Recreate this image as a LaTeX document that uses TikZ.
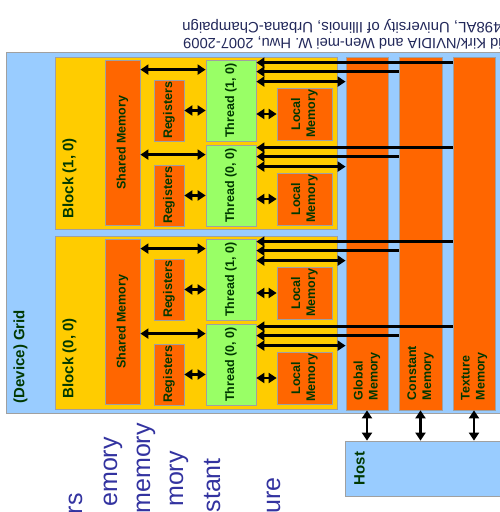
\documentclass[tikz,border=0pt]{standalone}
\usepackage{fontspec}
\setmainfont{Liberation Sans}
\usetikzlibrary{arrows.meta}
\definecolor{gridblue}{HTML}{99CCFF}
\definecolor{blockyel}{HTML}{FFCC00}
\definecolor{memorange}{HTML}{FF6600}
\definecolor{thrgreen}{HTML}{99FF66}
\definecolor{boxgray}{HTML}{A0A0A0}
\definecolor{txtgreen}{HTML}{003800}
\definecolor{footblue}{HTML}{22285A}
\definecolor{bulletblue}{HTML}{3333A0}
\tikzset{
  box/.style={draw=boxgray, line width=0.8pt, inner sep=0pt},
  membox/.style={box, fill=memorange, minimum width=42pt, minimum height=353pt},
  shmbox/.style={box, fill=memorange, minimum width=35pt, minimum height=165pt},
  regbox/.style={box, fill=memorange, minimum width=30pt, minimum height=61pt},
  locbox/.style={box, fill=memorange, minimum width=55pt, minimum height=52pt},
  thrbox/.style={box, fill=thrgreen, minimum width=50pt, minimum height=81pt},
  blkbox/.style={box, fill=blockyel, minimum width=282pt, minimum height=172pt},
  lbl/.style={rotate=90, inner sep=0pt, text=txtgreen, align=center,
    font=\bfseries\fontsize{12.5}{15}\selectfont},
  biglbl/.style={lbl, anchor=west, font=\bfseries\fontsize{15}{18}\selectfont},
  memlbl/.style={lbl, anchor=west, align=left},
  foot/.style={rotate=180, anchor=east, inner sep=0pt, text=footblue,
    font=\fontsize{15}{18}\selectfont},
  bullet/.style={rotate=90, anchor=base east, inner sep=0pt, text=bulletblue,
    font=\fontsize{25}{30}\selectfont},
  dbl/.style={{Triangle[length=8pt,width=10pt]}-{Triangle[length=8pt,width=10pt]}, line width=2.5pt},
  sgl/.style={-{Triangle[length=8pt,width=10pt]}, line width=2.5pt}
}
\begin{document}
\begin{tikzpicture}[x=1pt,y=-1pt]
\useasboundingbox (0,0) rectangle (500,512);
\clip (0,0) rectangle (500,512);
% footer, upside down
\node[foot, font=\fontsize{14.7}{18}\selectfont] (foot1) at (183,43) {\copyright{} David Kirk/NVIDIA and Wen-mei W. Hwu, 2007-2009};
\node[foot] (foot2) at (182,26) {ECE 498AL, University of Illinois, Urbana-Champaign};
% grid and host
\node[box, fill=gridblue, minimum width=499pt, minimum height=361pt] (grid) at (255.5,232.5) {};
\node[box, fill=gridblue, minimum width=160pt, minimum height=55pt] (host) at (425,468.5) {};
\node[biglbl] (gridtxt) at ([xshift=15pt,yshift=10pt]grid.south west) {(Device) Grid};
\node[biglbl] (hosttxt) at ([xshift=15pt,yshift=11pt]host.south west) {Host};
% blocks
\node[blkbox] (blk10) at (196,143) {};
\node[blkbox, minimum height=173pt] (blk00) at (196,322.5) {};
\node[biglbl] (blk10txt) at ([xshift=15pt,yshift=11pt]blk10.south west) {Block (1, 0)};
\node[biglbl] (blk00txt) at ([xshift=15pt,yshift=11pt]blk00.south west) {Block (0, 0)};
% per-grid memories
\node[membox] (glob) at (367,233.5) {};
\node[membox, minimum width=43pt] (cnst) at (420.5,233.5) {};
\node[membox] (tex) at (474,233.5) {};
\node[memlbl] (globtxt) at ([yshift=10pt]glob.south) {Global\\Memory};
\node[memlbl] (cnsttxt) at ([yshift=10pt]cnst.south) {Constant\\Memory};
\node[memlbl] (textxt) at ([yshift=10pt]tex.south) {Texture\\Memory};
% block (1, 0)
\node[shmbox] (b10shm) at (122.5,142.5) {};
\node[regbox] (b10reg10) at (169,110.5) {};
\node[regbox] (b10reg00) at (169,195.5) {};
\node[thrbox] (b10thr10) at (231,100.5) {};
\node[thrbox] (b10thr00) at (231,185.5) {};
\node[locbox] (b10loc10) at (304.5,114) {};
\node[locbox] (b10loc00) at (304.5,199) {};
\node[lbl] (b10shmtxt) at (b10shm) {Shared Memory};
\node[lbl] (b10reg10txt) at (b10reg10) {Registers};
\node[lbl] (b10reg00txt) at (b10reg00) {Registers};
\node[lbl] (b10thr10txt) at (b10thr10) {Thread (1, 0)};
\node[lbl] (b10thr00txt) at (b10thr00) {Thread (0, 0)};
\node[lbl] (b10loc10txt) at (b10loc10) {Local\\Memory};
\node[lbl] (b10loc00txt) at (b10loc00) {Local\\Memory};
% block (0, 0)
\node[shmbox] (b00shm) at (122.5,321.5) {};
\node[regbox] (b00reg10) at (169,289.5) {};
\node[regbox] (b00reg00) at (169,374.5) {};
\node[thrbox] (b00thr10) at (231,279.5) {};
\node[thrbox] (b00thr00) at (231,364.5) {};
\node[locbox] (b00loc10) at (304.5,293) {};
\node[locbox] (b00loc00) at (304.5,378) {};
\node[lbl] (b00shmtxt) at (b00shm) {Shared Memory};
\node[lbl] (b00reg10txt) at (b00reg10) {Registers};
\node[lbl] (b00reg00txt) at (b00reg00) {Registers};
\node[lbl] (b00thr10txt) at (b00thr10) {Thread (1, 0)};
\node[lbl] (b00thr00txt) at (b00thr00) {Thread (0, 0)};
\node[lbl] (b00loc10txt) at (b00loc10) {Local\\Memory};
\node[lbl] (b00loc00txt) at (b00loc00) {Local\\Memory};
% thread (1, 0) of block (1, 0)
\coordinate (b10s10) at ([yshift=-10pt]b10thr10.north west);
\coordinate (b10t10) at ([yshift=-3pt]b10thr10.north east);
\coordinate (b10c10) at ([yshift=-12pt]b10thr10.north east);
\coordinate (b10g10) at ([yshift=-22pt]b10thr10.north east);
\draw[dbl] (b10s10 -| b10shm.east) -- (b10s10);
\draw[dbl] (b10reg10.east) -- (b10reg10.east -| b10thr10.west);
\draw[dbl] (b10thr10.east |- b10loc10.west) -- (b10loc10.west);
\draw[sgl] (b10t10 -| tex.west) -- (b10t10);
\draw[sgl] (b10c10 -| cnst.west) -- (b10c10);
\draw[dbl] (b10g10) -- (b10g10 -| glob.west);
% thread (0, 0) of block (1, 0)
\coordinate (b10s00) at ([yshift=-10pt]b10thr00.north west);
\coordinate (b10t00) at ([yshift=-3pt]b10thr00.north east);
\coordinate (b10c00) at ([yshift=-12pt]b10thr00.north east);
\coordinate (b10g00) at ([yshift=-22pt]b10thr00.north east);
\draw[dbl] (b10s00 -| b10shm.east) -- (b10s00);
\draw[dbl] (b10reg00.east) -- (b10reg00.east -| b10thr00.west);
\draw[dbl] (b10thr00.east |- b10loc00.west) -- (b10loc00.west);
\draw[sgl] (b10t00 -| tex.west) -- (b10t00);
\draw[sgl] (b10c00 -| cnst.west) -- (b10c00);
\draw[dbl] (b10g00) -- (b10g00 -| glob.west);
% thread (1, 0) of block (0, 0)
\coordinate (b00s10) at ([yshift=-10pt]b00thr10.north west);
\coordinate (b00t10) at ([yshift=-3pt]b00thr10.north east);
\coordinate (b00c10) at ([yshift=-12pt]b00thr10.north east);
\coordinate (b00g10) at ([yshift=-22pt]b00thr10.north east);
\draw[dbl] (b00s10 -| b00shm.east) -- (b00s10);
\draw[dbl] (b00reg10.east) -- (b00reg10.east -| b00thr10.west);
\draw[dbl] (b00thr10.east |- b00loc10.west) -- (b00loc10.west);
\draw[sgl] (b00t10 -| tex.west) -- (b00t10);
\draw[sgl] (b00c10 -| cnst.west) -- (b00c10);
\draw[dbl] (b00g10) -- (b00g10 -| glob.west);
% thread (0, 0) of block (0, 0)
\coordinate (b00s00) at ([yshift=-10pt]b00thr00.north west);
\coordinate (b00t00) at ([yshift=-3pt]b00thr00.north east);
\coordinate (b00c00) at ([yshift=-12pt]b00thr00.north east);
\coordinate (b00g00) at ([yshift=-22pt]b00thr00.north east);
\draw[dbl] (b00s00 -| b00shm.east) -- (b00s00);
\draw[dbl] (b00reg00.east) -- (b00reg00.east -| b00thr00.west);
\draw[dbl] (b00thr00.east |- b00loc00.west) -- (b00loc00.west);
\draw[sgl] (b00t00 -| tex.west) -- (b00t00);
\draw[sgl] (b00c00 -| cnst.west) -- (b00c00);
\draw[dbl] (b00g00) -- (b00g00 -| glob.west);
% grid memories to host
\draw[dbl] (glob.south) -- (glob.south |- host.north);
\draw[dbl] (cnst.south) -- (cnst.south |- host.north);
\draw[dbl] (tex.south) -- (tex.south |- host.north);
% slide text, cut off at the bottom
\node[bullet] (bul1) at (82,493) {rs};
\node[bullet] (bul2) at (117,437) {emory};
\node[bullet] (bul3) at (150,423) {memory};
\node[bullet] (bul4) at (183,451) {mory};
\node[bullet] (bul5) at (220,458) {stant};
\node[bullet] (bul6) at (280,477) {ure};
\end{tikzpicture}
\end{document}
